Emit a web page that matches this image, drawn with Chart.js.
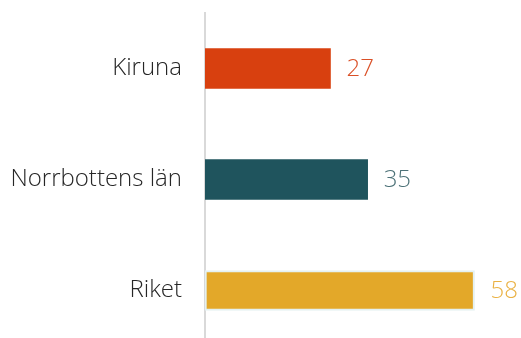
<!DOCTYPE html>
<html>
<head>
<meta charset="utf-8">
<script src="https://cdn.jsdelivr.net/npm/chart.js@4"></script>
<style>
  html, body { margin: 0; padding: 0; background: #fff; overflow: hidden; }
  canvas { display: block; }
</style>
</head>
<body>
<canvas id="chart" width="521" height="346"></canvas>
<script>
// Andel (%) per område
const categories = ['Kiruna', 'Norrbottens län', 'Riket'];
const values = [27, 35, 58];
const barColors = ['#D8400F', '#1F545D', '#E3A829'];
const labelColors = ['#DA5027', '#4C7177', '#EAB245'];

const fontFamily = '"Open Sans", Lato, sans-serif';

// Writes each bar's value just to the right of it
const valueLabels = {
  id: 'valueLabels',
  afterDatasetsDraw(chart) {
    const ctx = chart.ctx;
    const meta = chart.getDatasetMeta(0);
    ctx.save();
    ctx.font = '300 24px ' + fontFamily;
    ctx.textBaseline = 'middle';
    ctx.textAlign = 'left';
    meta.data.forEach((bar, i) => {
      ctx.fillStyle = labelColors[i];
      ctx.fillText(values[i], bar.x + 16, bar.y + 1);
    });
    ctx.restore();
  }
};

new Chart(document.getElementById('chart'), {
  type: 'bar',
  data: {
    labels: categories,
    datasets: [{
      data: values,
      backgroundColor: barColors,
      borderColor: ['rgba(0,0,0,0)', 'rgba(0,0,0,0)', '#E4F1F1'],
      borderWidth: [0, 0, 2],
      borderSkipped: false,
      barThickness: 40
    }]
  },
  options: {
    indexAxis: 'y',
    responsive: false,
    animation: false,
    layout: { padding: { top: 13, right: 0, bottom: 0, left: 0 } },
    plugins: {
      legend: { display: false },
      tooltip: { enabled: false }
    },
    scales: {
      x: {
        display: false,
        min: 0,
        max: 68
      },
      y: {
        afterFit(scale) {
          scale.width = 205;
          scale.paddingTop = 0;
          scale.paddingBottom = 0;
        },
        grid: { display: false, drawTicks: false },
        border: { display: true, color: '#D9D9D9', width: 2 },
        ticks: {
          color: '#262626',
          padding: 23,
          font: { family: fontFamily, size: 24, weight: '300' }
        }
      }
    }
  },
  plugins: [valueLabels]
});
</script>
</body>
</html>
